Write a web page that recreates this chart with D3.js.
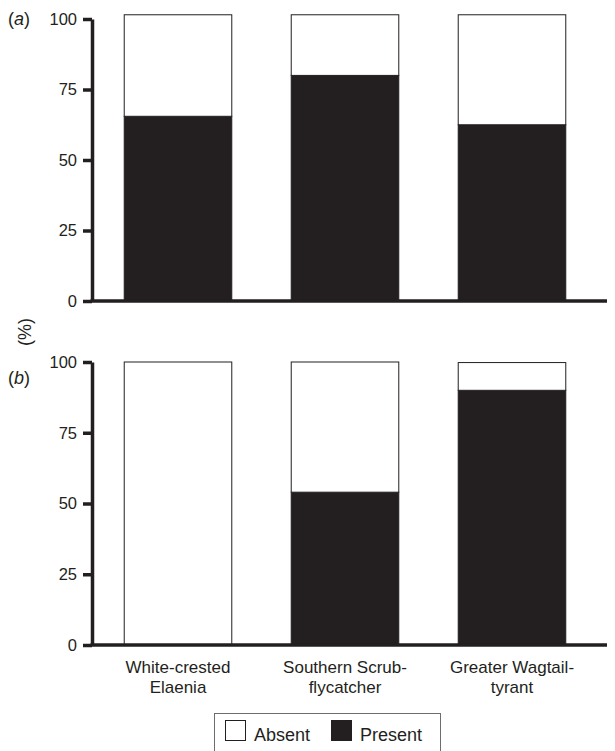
<!DOCTYPE html>
<html>
<head>
<meta charset="utf-8">
<script src="https://cdn.jsdelivr.net/npm/d3@7"></script>
<style>
  body { margin: 0; background: #fff; }
  svg text { font-family: "Liberation Sans", Arial, Helvetica, sans-serif; fill: #231f20; }
</style>
</head>
<body>
<svg id="chart"></svg>
<script>
// data
const species = ["White-crested Elaenia", "Southern Scrub-flycatcher", "Greater Wagtail-tyrant"];
const speciesLines = [["White-crested", "Elaenia"], ["Southern Scrub-", "flycatcher"], ["Greater Wagtail-", "tyrant"]];
const keys = ["Present", "Absent"];
const presentA = [65.5, 80, 62.5];
const absentA = [36, 21.5, 39];
const presentB = [0, 54, 90];
const absentB = [100, 46, 9.8];
const yTicks = [0, 25, 50, 75, 100];

const width = 615, height = 751;
const ink = "#231f20";
const axisX = 92, axisEnd = 607;

const svg = d3.select('#chart')
    .attr("width", width)
    .attr("height", height);

const x = d3.scaleBand()
    .domain(species)
    .range([axisX, 598])
    .paddingInner(0.35)
    .paddingOuter(0.19);

const panels = [
    { label: "a", present: presentA, absent: absentA, y0: 301, y100: 19 },
    { label: "b", present: presentB, absent: absentB, y0: 645, y100: 362 }
];

const stack = d3.stack().keys(keys);

panels.forEach((p, pi) => {
    const y = d3.scaleLinear().domain([0, 100]).range([p.y0, p.y100]);
    const rows = species.map((s, i) => ({ species: s, Present: p.present[i], Absent: p.absent[i] }));
    const series = stack(rows);

    const g = svg.append("g");

    series.forEach(s => {
        g.selectAll(null)
            .data(s)
            .join("rect")
            .attr("x", d => x(d.data.species) + 0.5)
            .attr("width", x.bandwidth() - 1)
            .attr("y", d => y(d[1]))
            .attr("height", d => Math.max(0, y(d[0]) - y(d[1])))
            .attr("fill", s.key === "Present" ? ink : "#fff")
            .attr("stroke", d => (d[1] - d[0]) > 0 ? ink : "none")
            .attr("stroke-width", 1);
    });

    // y axis
    const yAxis = g.append("g")
        .attr("transform", `translate(${axisX},0)`)
        .call(d3.axisLeft(y).tickValues(yTicks).tickSize(9).tickSizeOuter(0).tickPadding(6));
    yAxis.select(".domain").attr("stroke", ink).attr("stroke-width", 3.5);
    yAxis.selectAll(".tick line").attr("stroke", ink).attr("stroke-width", 3.5);
    yAxis.selectAll(".tick text")
        .attr("font-size", 16.5)
        .attr("font-family", "'Liberation Sans', Arial, sans-serif")
        .attr("fill", ink);

    // baseline
    g.append("line")
        .attr("x1", axisX - 1.5).attr("x2", axisEnd)
        .attr("y1", y(0)).attr("y2", y(0))
        .attr("stroke", ink).attr("stroke-width", 3.5);

    // panel label
    const lab = g.append("text")
        .attr("x", 8)
        .attr("y", pi === 0 ? y(100) + 6 : y(100) + 22)
        .attr("font-size", 18);
    lab.append("tspan").text("(");
    lab.append("tspan").attr("font-style", "italic").text(p.label);
    lab.append("tspan").text(")");

    if (pi === 1) {
        const labels = g.selectAll(".cat")
            .data(speciesLines)
            .join("text")
            .attr("class", "cat")
            .attr("text-anchor", "middle")
            .attr("font-size", 17)
            .attr("transform", (d, i) => `translate(${x(species[i]) + x.bandwidth() / 2},${y(0) + 28})`);
        labels.selectAll("tspan")
            .data(d => d)
            .join("tspan")
            .attr("x", 0)
            .attr("dy", (d, i) => i === 0 ? 0 : 20)
            .text(d => d);
    }
});

// y title
svg.append("text")
    .attr("transform", "translate(31,332) rotate(-90)")
    .attr("text-anchor", "middle")
    .attr("font-size", 18)
    .text("(%)");

// legend
const legend = svg.append("g");
legend.append("rect")
    .attr("x", 214.5).attr("y", 713.5)
    .attr("width", 226).attr("height", 50)
    .attr("fill", "#fff").attr("stroke", "#6d6d6d").attr("stroke-width", 1);

const legendItems = [
    { key: "Absent", fill: "#fff", sx: 225, tx: 254 },
    { key: "Present", fill: ink, sx: 331, tx: 360 }
];
legendItems.forEach(it => {
    legend.append("rect")
        .attr("x", it.sx + 0.5).attr("y", 720.5)
        .attr("width", 20).attr("height", 20)
        .attr("fill", it.fill).attr("stroke", ink).attr("stroke-width", 1);
    legend.append("text")
        .attr("x", it.tx).attr("y", 741)
        .attr("font-size", 18)
        .text(it.key);
});
</script>
</body>
</html>
